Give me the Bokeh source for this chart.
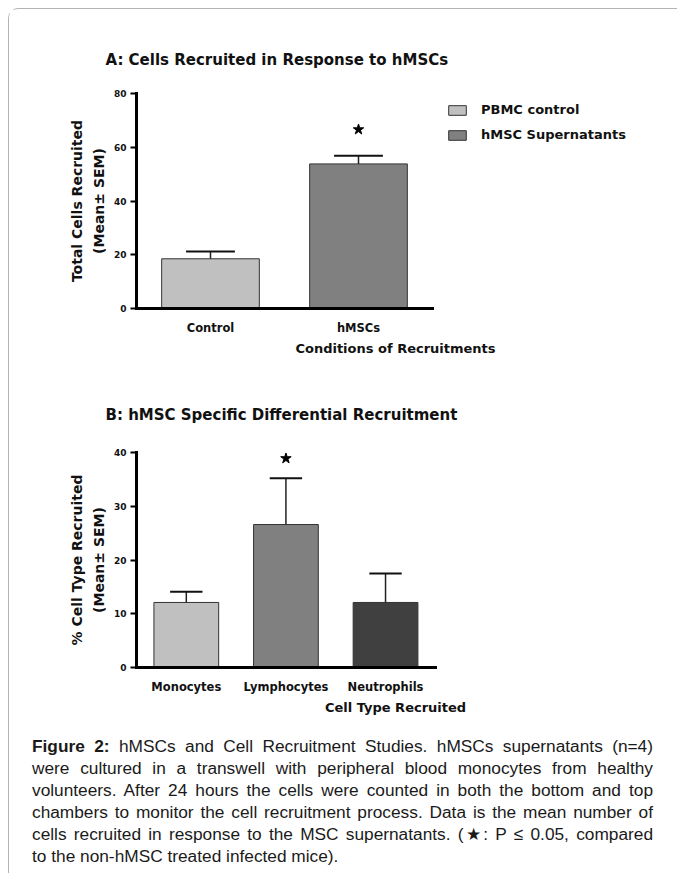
import numpy as np
from bokeh.plotting import figure
from bokeh.models import Range1d, FixedTicker, ColumnDataSource, Div
from bokeh.layouts import column
from bokeh.embed import file_html
from bokeh.resources import INLINE

# ---------------- data ----------------
a_title = "A: Cells Recruited in Response to hMSCs"
a_categories = ["Control", "hMSCs"]
a_legend = ["PBMC control", "hMSC Supernatants"]
a_means = [18.5, 53.8]
a_sem = [2.7, 3.0]
a_star = [None, 66.6]
a_colors = ["#c0c0c0", "#808080"]
a_yticks = [0, 20, 40, 60, 80]
a_ylabel = "Total Cells Recruited\n(Mean\u00b1 SEM)"
a_xlabel = "Conditions of Recruitments"

b_title = "B: hMSC Specific Differential  Recruitment"
b_categories = ["Monocytes", "Lymphocytes", "Neutrophils"]
b_means = [12.1, 26.6, 12.1]
b_sem = [2.0, 8.6, 5.4]
b_star = [None, 38.9, None]
b_colors = ["#c0c0c0", "#808080", "#404040"]
b_yticks = [0, 10, 20, 30, 40]
b_ylabel = "% Cell Type Recruited\n(Mean\u00b1 SEM)"
b_xlabel = "Cell Type Recruited"

caption_lines = [
    "<b>Figure 2:</b> hMSCs and Cell Recruitment Studies. hMSCs supernatants (n=4)",
    "were cultured in a transwell with peripheral blood monocytes from healthy",
    "volunteers. After 24 hours the cells were counted in both the bottom and top",
    "chambers to monitor the cell recruitment process. Data is the mean number of",
    "cells recruited in response to the MSC supernatants. (\u2605: P \u2264 0.05, compared",
    "to the non-hMSC treated infected mice).",
]

FONT = "DejaVu Sans"


def make_panel(title, cats, means, sems, stars, colors, yticks, ylabel, xlabel,
               xend, bar_w, top_b, bottom_b, title_standoff, legend=None):
    n = len(cats)
    xs = np.arange(n) + 0.5
    p = figure(x_range=Range1d(0, xend), y_range=Range1d(0, yticks[-1]),
               frame_width=518, frame_height=215,
               min_border_left=127, min_border_right=23,
               min_border_top=top_b, min_border_bottom=bottom_b,
               output_backend="svg", toolbar_location=None, tools="")
    p.outline_line_color = None
    p.xgrid.visible = False
    p.ygrid.visible = False

    src = ColumnDataSource(dict(x=xs, top=means, color=colors,
                                lab=legend if legend else cats))
    kw = dict(legend_field="lab") if legend else {}
    p.vbar(x="x", top="top", width=bar_w, bottom=0, fill_color="color",
           line_color="#333333", line_width=1, source=src, **kw)

    up = [m + s for m, s in zip(means, sems)]
    cap = bar_w / 4
    p.segment(x0=xs, y0=means, x1=xs, y1=up, line_color="#222222", line_width=1.5)
    p.segment(x0=xs - cap, y0=up, x1=xs + cap, y1=up, line_color="#111111", line_width=2)

    sx = [x for x, s in zip(xs, stars) if s is not None]
    sy = [s for s in stars if s is not None]
    p.scatter(sx, sy, marker="star", size=11, color="black")

    # title
    p.title.text = title
    p.title.align = "left"
    p.title.offset = -31
    p.title.standoff = title_standoff
    p.title.text_font = FONT
    p.title.text_font_size = "15px"
    p.title.text_font_style = "bold"
    p.title.text_color = "#111111"

    # y axis
    ya = p.yaxis[0]
    ya.ticker = FixedTicker(ticks=yticks)
    ya.axis_label = ylabel
    ya.axis_line_width = 3
    ya.axis_line_cap = "square"
    ya.major_tick_line_width = 2
    ya.major_tick_out = 6
    ya.major_tick_in = 0
    ya.minor_tick_line_color = None
    ya.major_label_text_font = FONT
    ya.major_label_text_font_style = "bold"
    ya.major_label_text_font_size = "9px"
    ya.major_label_standoff = 4
    ya.axis_label_text_font = FONT
    ya.axis_label_text_font_style = "bold"
    ya.axis_label_text_font_size = "14px"
    ya.axis_label_text_line_height = 1.35
    ya.axis_label_standoff = 4
    ya.major_label_text_color = "#111111"
    ya.axis_label_text_color = "#111111"

    # x axis
    xa = p.xaxis[0]
    xa.ticker = FixedTicker(ticks=list(xs))
    xa.major_label_overrides = {float(x): c for x, c in zip(xs, cats)}
    xa.bounds = (0, n)
    xa.axis_label = xlabel
    xa.axis_line_width = 3
    xa.axis_line_cap = "square"
    xa.major_tick_line_color = None
    xa.major_tick_out = 0
    xa.major_tick_in = 0
    xa.minor_tick_line_color = None
    xa.major_label_text_font = FONT
    xa.major_label_text_font_style = "bold"
    xa.major_label_text_font_size = "11.5px"
    xa.major_label_standoff = 12
    xa.axis_label_text_font = FONT
    xa.axis_label_text_font_style = "bold"
    xa.axis_label_text_font_size = "13px"
    xa.axis_label_standoff = 3
    xa.major_label_text_color = "#111111"
    xa.axis_label_text_color = "#111111"

    if legend:
        lg = p.legend[0]
        lg.location = (310, 166)
        lg.border_line_color = None
        lg.background_fill_alpha = 0
        lg.padding = 0
        lg.margin = 0
        lg.spacing = 10
        lg.glyph_width = 22
        lg.glyph_height = 12
        lg.label_height = 12
        lg.label_standoff = 13
        lg.label_text_font = FONT
        lg.label_text_font_style = "bold"
        lg.label_text_font_size = "13px"
        lg.label_text_color = "#111111"
    return p


pa = make_panel(a_title, a_categories, a_means, a_sem, a_star, a_colors, a_yticks,
                a_ylabel, a_xlabel, 3.5, 0.66, 84, 62, 50, legend=a_legend)
pb = make_panel(b_title, b_categories, b_means, b_sem, b_star, b_colors, b_yticks,
                b_ylabel, b_xlabel, 5.2, 0.65, 82, 48, 58)

line_html = []
for i, ln in enumerate(caption_lines):
    last = i == len(caption_lines) - 1
    if last:
        line_html.append(f'<div style="text-align:left;white-space:nowrap;">{ln}</div>')
    else:
        line_html.append(f'<div style="text-align:justify;text-align-last:justify;white-space:nowrap;">{ln}</div>')
caption = Div(
    text='<div style="width:621px;">' + "".join(line_html) + "</div>",
    width=640, height=138, margin=(18, 0, 0, 23),
    styles={"font-family": "'Liberation Sans', Arial, sans-serif", "font-size": "17.3px",
            "line-height": "22px", "color": "#1a1a1a"},
)

layout = column(pa, pb, caption, spacing=0, margin=(8, 0, 0, 8),
                styles={"border-top": "1px solid #b4b4b4", "border-left": "1px solid #b4b4b4",
                        "border-top-left-radius": "10px"})

open("out.html", "w").write(file_html(layout, INLINE))
